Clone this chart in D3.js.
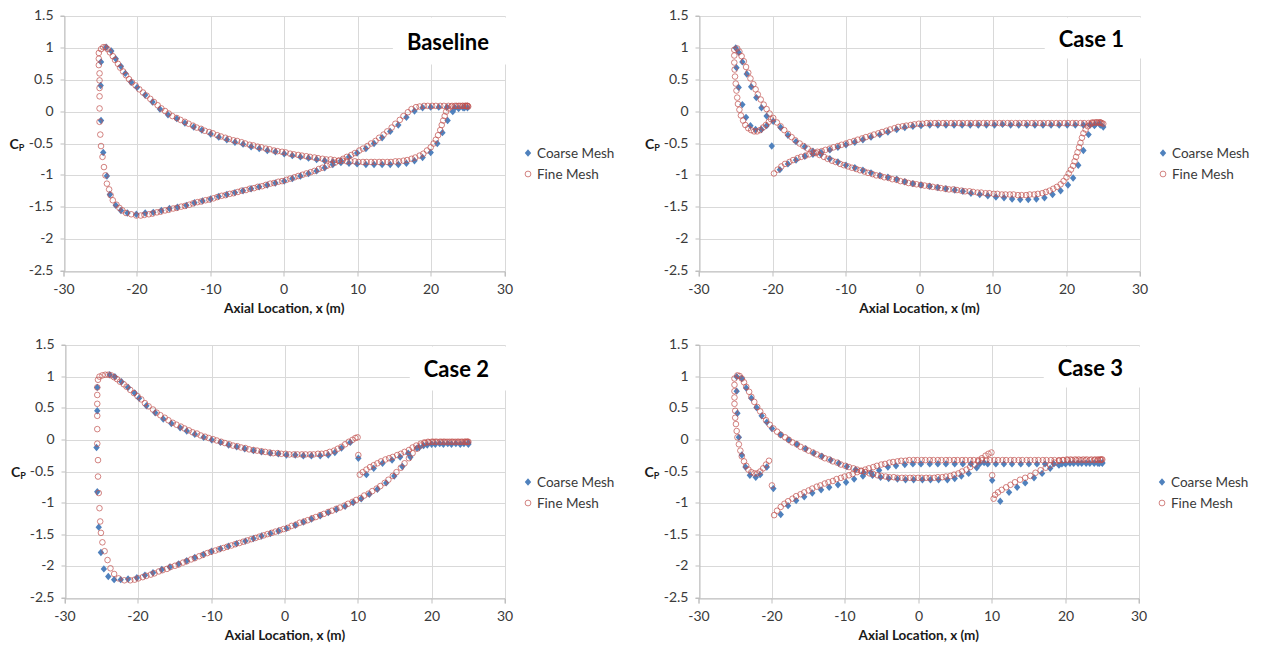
<!DOCTYPE html>
<html><head><meta charset="utf-8">
<script src="https://cdn.jsdelivr.net/npm/d3@7"></script>
<style>body{margin:0;background:#fff;} svg{display:block;font-family:Lato,"Open Sans",sans-serif;}</style>
</head><body><svg id="c" width="1264" height="646"></svg>
<script>
const xTicks = [-30,-20,-10,0,10,20,30];
const yTicks = [1.5,1,0.5,0,-0.5,-1,-1.5,-2,-2.5];
const seriesNames = ["Coarse Mesh","Fine Mesh"];
const panelTitles = ["Baseline","Case 1","Case 2","Case 3"];
const xAxisTitle = "Axial Location, x (m)";

const baselineCoarse = [
[-24.9,0.78],[-24.95,0.41],[-24.9,-0.14],[-24.6,-0.64],[-24.1,-1.01],[-23.7,-1.30],[-22.9,-1.47],[-22.2,-1.55],[-21.3,-1.59],[-20.1,-1.61],[-18.9,-1.59],[-17.8,-1.58],[-16.7,-1.55],[-15.6,-1.52],[-14.5,-1.50],[-13.3,-1.47],[-12.2,-1.43],[-11.1,-1.40],[-10.0,-1.37],[-8.9,-1.33],[-7.8,-1.30],[-6.7,-1.27],[-5.6,-1.24],[-4.5,-1.21],[-3.4,-1.18],[-2.3,-1.15],[-1.2,-1.12],[0,-1.09],[1.1,-1.05],[2.2,-1.01],[3.3,-0.97],[4.4,-0.93],[5.5,-0.88],[6.6,-0.83],[7.7,-0.77],[8.8,-0.71],[9.9,-0.65],[11.1,-0.58],[12.2,-0.50],[13.3,-0.41],[14.4,-0.31],[15.5,-0.21],[16.6,-0.09],[17.7,0.01],[18.8,0.06],[19.9,0.07],[21.0,0.07],[22.1,0.07],[23.2,0.06],[24.3,0.06],[24.9,0.06],
[-24.2,1.01],[-23.5,0.95],[-22.9,0.83],[-22.2,0.71],[-21.6,0.60],[-20.8,0.46],[-20.0,0.38],[-18.9,0.26],[-17.9,0.15],[-16.9,0.04],[-15.8,-0.05],[-14.6,-0.11],[-13.5,-0.18],[-12.3,-0.24],[-11.2,-0.29],[-10.0,-0.35],[-8.9,-0.40],[-7.8,-0.44],[-6.7,-0.48],[-5.6,-0.51],[-4.5,-0.55],[-3.4,-0.58],[-2.3,-0.61],[-1.2,-0.63],[0,-0.66],[1.1,-0.69],[2.2,-0.71],[3.3,-0.73],[4.4,-0.75],[5.5,-0.77],[6.6,-0.79],[7.7,-0.80],[8.8,-0.81],[9.9,-0.82],[11.1,-0.83],[12.2,-0.83],[13.3,-0.83],[14.4,-0.83],[15.5,-0.83],[16.6,-0.81],[17.7,-0.77],[18.8,-0.72],[19.9,-0.64],[20.8,-0.50],[21.5,-0.33],[22.2,-0.14],[22.9,0.0],[23.7,0.05],[24.5,0.06]
];
const baselineFine = [
[-25.2,0.92],[-25.2,0.83],[-25.2,0.73],[-25.1,0.6],[-25.1,0.49],[-25.1,0.37],[-25.1,0.24],[-25.1,0.05],[-25.1,-0.16],[-25.0,-0.36],[-24.9,-0.54],[-24.7,-0.71],[-24.5,-0.87],[-24.3,-1.0],[-24.1,-1.13],[-23.8,-1.22],[-23.6,-1.31],[-23.3,-1.39],[-22.8,-1.46],[-22.4,-1.51],[-22.0,-1.55],[-21.5,-1.59],[-20.8,-1.61],[-20.1,-1.63],[-19.5,-1.63],[-19.0,-1.62],[-18.4,-1.61],[-17.9,-1.60],[-17.3,-1.58],[-16.8,-1.57],[-16.2,-1.55],[-15.7,-1.54],[-15.1,-1.52],[-14.6,-1.51],[-14.0,-1.49],[-13.5,-1.48],[-12.9,-1.46],[-12.4,-1.44],[-11.8,-1.42],[-11.3,-1.41],[-10.7,-1.39],[-10.2,-1.38],[-9.6,-1.36],[-9.1,-1.34],[-8.5,-1.32],[-8.0,-1.31],[-7.4,-1.29],[-6.9,-1.28],[-6.3,-1.26],[-5.8,-1.24],[-5.2,-1.23],[-4.7,-1.21],[-4.1,-1.20],[-3.6,-1.18],[-3.0,-1.17],[-2.5,-1.15],[-1.9,-1.13],[-1.4,-1.12],[-0.8,-1.10],[-0.3,-1.09],[0.3,-1.07],[0.8,-1.05],[1.4,-1.03],[1.9,-1.01],[2.5,-0.99],[3.0,-0.97],[3.6,-0.95],[4.1,-0.93],[4.7,-0.90],[5.2,-0.88],[5.8,-0.85],[6.3,-0.83],[6.9,-0.80],[7.4,-0.77],[8.0,-0.74],[8.5,-0.71],[9.1,-0.68],[9.6,-0.65],[10.2,-0.61],[10.7,-0.58],[11.3,-0.54],[11.8,-0.50],[12.4,-0.46],[12.9,-0.41],[13.5,-0.36],[14.0,-0.31],[14.6,-0.25],[15.1,-0.19],[15.7,-0.13],[16.2,-0.07],[16.8,-0.01],[17.3,0.04],[17.9,0.07],[18.4,0.08],[19.0,0.09],[19.5,0.09],[20.1,0.09],[20.6,0.09],[21.2,0.09],[21.7,0.09],[22.3,0.09],[22.8,0.09],[23.4,0.09],[23.9,0.09],[24.3,0.09],[24.6,0.09],[24.8,0.09],[24.9,0.09],[25.0,0.08],
[-24.9,0.98],[-24.6,1.01],[-24.3,1.01],[-24.0,0.98],[-23.7,0.93],[-23.3,0.87],[-23.0,0.81],[-22.6,0.75],[-22.3,0.69],[-21.9,0.63],[-21.5,0.57],[-21.1,0.51],[-20.7,0.46],[-20.2,0.41],[-19.7,0.35],[-19.2,0.30],[-18.7,0.25],[-18.2,0.20],[-17.7,0.15],[-17.2,0.10],[-16.7,0.05],[-16.2,0.01],[-15.7,-0.03],[-15.2,-0.07],[-14.6,-0.10],[-14.1,-0.13],[-13.5,-0.16],[-13.0,-0.19],[-12.4,-0.22],[-11.9,-0.25],[-11.3,-0.27],[-10.8,-0.30],[-10.2,-0.32],[-9.7,-0.34],[-9.1,-0.37],[-8.6,-0.39],[-8.0,-0.41],[-7.5,-0.43],[-6.9,-0.45],[-6.4,-0.46],[-5.8,-0.48],[-5.3,-0.50],[-4.7,-0.52],[-4.2,-0.53],[-3.6,-0.55],[-3.1,-0.56],[-2.5,-0.58],[-2.0,-0.59],[-1.4,-0.61],[-0.9,-0.62],[-0.3,-0.63],[0.2,-0.64],[0.8,-0.66],[1.3,-0.67],[1.9,-0.68],[2.4,-0.69],[3.0,-0.70],[3.5,-0.71],[4.1,-0.72],[4.6,-0.73],[5.2,-0.74],[5.7,-0.75],[6.3,-0.75],[6.8,-0.76],[7.4,-0.77],[7.9,-0.77],[8.5,-0.78],[9.0,-0.78],[9.6,-0.78],[10.1,-0.79],[10.7,-0.79],[11.2,-0.79],[11.8,-0.79],[12.3,-0.79],[12.9,-0.79],[13.4,-0.79],[14.0,-0.79],[14.5,-0.79],[15.1,-0.78],[15.6,-0.78],[16.2,-0.77],[16.7,-0.76],[17.3,-0.74],[17.8,-0.72],[18.4,-0.69],[18.9,-0.66],[19.4,-0.61],[19.9,-0.56],[20.3,-0.50],[20.6,-0.44],[20.9,-0.37],[21.2,-0.29],[21.4,-0.21],[21.6,-0.14],[21.8,-0.07],[22.0,0.0],[22.3,0.05],[22.7,0.08],[23.2,0.09],[23.7,0.09],[24.2,0.09],[24.6,0.09],[24.9,0.09]
];

const case1Coarse = [
[-25.0,1.0],[-24.9,0.69],[-24.6,0.38],[-24.1,0.11],[-23.6,-0.09],[-23.0,-0.22],[-22.3,-0.28],[-21.5,-0.28],[-20.8,-0.22],[-20.1,-0.54],
[-24.6,0.93],[-24.1,0.78],[-23.5,0.59],[-22.9,0.39],[-22.2,0.22],[-21.5,0.06],[-20.8,-0.07],[-19.9,-0.15],[-18.9,-0.25],[-17.9,-0.37],[-16.8,-0.47],[-15.6,-0.55],[-14.5,-0.62],[-13.4,-0.67],[-12.2,-0.74],[-11.1,-0.79],[-10.0,-0.84],[-8.8,-0.88],[-7.7,-0.92],[-6.6,-0.96],[-5.4,-1.0],[-4.3,-1.03],[-3.1,-1.06],[-2.0,-1.10],[-0.9,-1.13],[0.2,-1.15],[1.4,-1.17],[2.5,-1.19],[3.6,-1.21],[4.8,-1.23],[5.9,-1.25],[7.0,-1.28],[8.2,-1.30],[9.3,-1.32],[10.4,-1.34],[11.5,-1.35],[12.6,-1.37],[13.7,-1.38],[14.8,-1.38],[15.9,-1.37],[17.0,-1.35],[18.1,-1.30],[19.2,-1.24],[20.2,-1.15],[20.9,-1.04],[21.6,-0.84],[22.3,-0.61],[23.0,-0.36],[23.8,-0.22],[24.6,-0.21],[25.0,-0.24],
[-19.0,-0.91],[-17.9,-0.82],[-16.8,-0.76],[-15.6,-0.70],[-14.5,-0.67],[-13.4,-0.64],[-12.2,-0.60],[-11.1,-0.56],[-10.0,-0.52],[-8.8,-0.48],[-7.7,-0.44],[-6.6,-0.40],[-5.4,-0.36],[-4.3,-0.32],[-3.1,-0.28],[-2.0,-0.25],[-0.9,-0.23],[0.2,-0.22],[1.4,-0.21],[2.5,-0.21],[3.6,-0.21],[4.7,-0.21],[5.8,-0.21],[6.9,-0.21],[8.0,-0.21],[9.1,-0.21],[10.2,-0.21],[11.3,-0.20],[12.4,-0.21],[13.5,-0.21],[14.6,-0.21],[15.7,-0.21],[16.8,-0.21],[17.9,-0.21],[19.0,-0.21],[20.1,-0.21],[21.2,-0.21],[22.3,-0.21],[23.2,-0.21],[23.9,-0.20],[24.5,-0.19]
];
const case1Fine = [
[-25.2,0.97],[-25.2,0.88],[-25.2,0.77],[-25.15,0.66],[-25.1,0.55],[-25.0,0.44],[-24.9,0.33],[-24.8,0.22],[-24.7,0.12],[-24.5,0.03],[-24.3,-0.06],[-24.0,-0.14],[-23.7,-0.21],[-23.3,-0.26],[-22.9,-0.29],[-22.5,-0.31],[-22.1,-0.31],[-21.7,-0.29],[-21.3,-0.25],[-20.9,-0.21],[-20.5,-0.16],[-20.2,-0.12],
[-24.8,0.99],[-24.5,0.94],[-24.2,0.87],[-23.9,0.79],[-23.6,0.70],[-23.3,0.61],[-23.0,0.52],[-22.6,0.43],[-22.3,0.35],[-22.0,0.27],[-21.6,0.19],[-21.2,0.11],[-20.8,0.04],[-20.4,-0.03],[-19.9,-0.10],[-19.4,-0.17],[-18.9,-0.23],[-18.4,-0.29],[-17.9,-0.35],[-17.4,-0.40],[-16.9,-0.45],[-16.3,-0.50],[-15.8,-0.54],[-15.2,-0.58],[-14.7,-0.62],[-14.1,-0.65],[-13.6,-0.68],[-13.0,-0.71],[-12.5,-0.74],[-11.9,-0.77],[-11.4,-0.79],[-10.8,-0.82],[-10.3,-0.84],[-9.7,-0.86],[-9.2,-0.88],[-8.6,-0.90],[-8.1,-0.92],[-7.5,-0.94],[-7.0,-0.96],[-6.4,-0.98],[-5.9,-1.0],[-5.3,-1.01],[-4.8,-1.03],[-4.2,-1.04],[-3.7,-1.06],[-3.1,-1.07],[-2.6,-1.09],[-2.0,-1.10],[-1.5,-1.12],[-0.9,-1.13],[-0.4,-1.14],[0.2,-1.15],[0.7,-1.16],[1.3,-1.17],[1.8,-1.18],[2.4,-1.19],[2.9,-1.20],[3.5,-1.21],[4.0,-1.22],[4.6,-1.22],[5.1,-1.23],[5.7,-1.24],[6.2,-1.25],[6.8,-1.25],[7.3,-1.26],[7.9,-1.27],[8.4,-1.27],[9.0,-1.28],[9.5,-1.28],[10.1,-1.29],[10.6,-1.29],[11.2,-1.30],[11.7,-1.30],[12.3,-1.30],[12.8,-1.30],[13.4,-1.31],[13.9,-1.31],[14.5,-1.31],[15.0,-1.30],[15.6,-1.30],[16.1,-1.29],[16.7,-1.28],[17.2,-1.26],[17.7,-1.24],[18.2,-1.21],[18.7,-1.18],[19.2,-1.14],[19.6,-1.09],[20.0,-1.03],[20.3,-0.97],[20.6,-0.91],[20.9,-0.85],[21.1,-0.78],[21.3,-0.71],[21.5,-0.64],[21.7,-0.56],[21.9,-0.49],[22.1,-0.41],[22.3,-0.34],[22.6,-0.28],[22.9,-0.23],[23.2,-0.20],[23.5,-0.18],[23.8,-0.17],[24.1,-0.17],[24.4,-0.17],[24.6,-0.17],[24.8,-0.18],[25.0,-0.19],
[-19.8,-0.97],[-19.3,-0.91],[-18.8,-0.86],[-18.3,-0.82],[-17.7,-0.79],[-17.2,-0.76],[-16.6,-0.73],[-16.1,-0.71],[-15.5,-0.69],[-15.0,-0.67],[-14.4,-0.65],[-13.9,-0.63],[-13.3,-0.62],[-12.8,-0.60],[-12.2,-0.58],[-11.7,-0.56],[-11.1,-0.54],[-10.6,-0.52],[-10.0,-0.50],[-9.5,-0.48],[-8.9,-0.46],[-8.4,-0.44],[-7.8,-0.42],[-7.3,-0.40],[-6.7,-0.38],[-6.2,-0.36],[-5.6,-0.34],[-5.1,-0.32],[-4.5,-0.30],[-4.0,-0.28],[-3.4,-0.26],[-2.9,-0.24],[-2.3,-0.23],[-1.8,-0.22],[-1.2,-0.21],[-0.7,-0.20],[-0.1,-0.19],[0.4,-0.19],[1.0,-0.18],[1.5,-0.18],[2.1,-0.18],[2.6,-0.18],[3.2,-0.18],[3.7,-0.18],[4.3,-0.18],[4.8,-0.18],[5.4,-0.18],[5.9,-0.18],[6.5,-0.18],[7.0,-0.18],[7.6,-0.18],[8.1,-0.18],[8.7,-0.18],[9.2,-0.18],[9.8,-0.18],[10.3,-0.18],[10.9,-0.18],[11.4,-0.18],[12.0,-0.18],[12.5,-0.18],[13.1,-0.18],[13.6,-0.18],[14.2,-0.18],[14.7,-0.18],[15.3,-0.18],[15.8,-0.18],[16.4,-0.18],[16.9,-0.18],[17.5,-0.18],[18.0,-0.18],[18.6,-0.18],[19.1,-0.18],[19.7,-0.18],[20.2,-0.18],[20.8,-0.18],[21.3,-0.18],[21.9,-0.18],[22.4,-0.18],[23.0,-0.18],[23.5,-0.17],[24.1,-0.17],[24.6,-0.17]
];

const case2Coarse = [
[-25.6,0.83],[-25.6,0.46],[-25.7,-0.12],[-25.6,-0.82],[-25.4,-1.38],[-25.1,-1.78],[-24.7,-2.04],[-24.1,-2.16],[-23.3,-2.21],[-22.4,-2.21],[-21.4,-2.20],[-20.2,-2.18],[-19.1,-2.14],[-18.0,-2.10],[-16.8,-2.05],[-15.7,-2.01],[-14.5,-1.96],[-13.4,-1.91],[-12.3,-1.86],[-11.1,-1.81],[-10.0,-1.76],[-8.8,-1.72],[-7.7,-1.68],[-6.6,-1.64],[-5.4,-1.60],[-4.3,-1.56],[-3.2,-1.52],[-2.0,-1.48],[-0.9,-1.44],[0.2,-1.40],[1.4,-1.35],[2.5,-1.30],[3.6,-1.25],[4.8,-1.20],[5.9,-1.15],[7.0,-1.10],[8.2,-1.05],[9.3,-0.99],[10.4,-0.93],[11.5,-0.86],[12.6,-0.78],[13.8,-0.68],[14.9,-0.57],[16.0,-0.42],[17.1,-0.27],[18.3,-0.12],[19.4,-0.08],[20.5,-0.07],[21.6,-0.07],[22.7,-0.07],[23.9,-0.07],[25.0,-0.07],
[-23.9,1.03],[-23.2,1.0],[-22.3,0.92],[-21.4,0.83],[-20.5,0.74],[-19.9,0.66],[-18.9,0.54],[-17.7,0.43],[-16.6,0.33],[-15.5,0.26],[-14.3,0.19],[-13.4,0.14],[-12.3,0.09],[-11.1,0.04],[-10.0,0.0],[-8.8,-0.04],[-7.7,-0.08],[-6.6,-0.11],[-5.5,-0.14],[-4.3,-0.17],[-3.2,-0.19],[-2.0,-0.21],[-0.9,-0.22],[0.2,-0.24],[1.4,-0.24],[2.5,-0.25],[3.6,-0.25],[4.8,-0.25],[5.9,-0.24],[6.8,-0.20],[7.7,-0.13],[8.9,-0.04],
[10.0,-0.29],
[11.1,-0.55],[12.1,-0.45],[13.3,-0.37],[14.6,-0.32],[15.7,-0.27],[16.8,-0.21],[18.0,-0.13],[18.9,-0.09],[20.0,-0.07],[21.1,-0.06],[22.2,-0.06],[23.3,-0.06],[24.4,-0.06],[25.0,-0.05]
];
const case2Fine = [
[-25.5,0.95],[-25.6,0.83],[-25.6,0.71],[-25.6,0.57],[-25.6,0.38],[-25.6,0.17],[-25.6,-0.06],[-25.5,-0.32],[-25.5,-0.58],[-25.4,-0.84],[-25.3,-1.08],[-25.2,-1.29],[-25.1,-1.47],[-24.9,-1.62],[-24.6,-1.76],[-24.2,-1.90],[-23.8,-2.03],[-23.3,-2.12],[-22.7,-2.19],[-21.9,-2.22],[-21.1,-2.22],[-20.5,-2.21],[-20.0,-2.19],[-19.4,-2.17],[-18.9,-2.15],[-18.3,-2.13],[-17.8,-2.11],[-17.2,-2.08],[-16.7,-2.06],[-16.1,-2.04],[-15.6,-2.01],[-15.0,-1.99],[-14.5,-1.97],[-13.9,-1.94],[-13.4,-1.92],[-12.8,-1.89],[-12.3,-1.87],[-11.7,-1.84],[-11.2,-1.82],[-10.6,-1.79],[-10.1,-1.77],[-9.5,-1.75],[-9.0,-1.73],[-8.4,-1.71],[-7.9,-1.69],[-7.3,-1.67],[-6.8,-1.65],[-6.2,-1.63],[-5.7,-1.61],[-5.1,-1.59],[-4.6,-1.57],[-4.0,-1.55],[-3.5,-1.53],[-2.9,-1.51],[-2.4,-1.49],[-1.8,-1.47],[-1.3,-1.45],[-0.7,-1.43],[-0.2,-1.41],[0.4,-1.39],[0.9,-1.36],[1.5,-1.34],[2.0,-1.31],[2.6,-1.29],[3.1,-1.27],[3.7,-1.24],[4.2,-1.22],[4.8,-1.19],[5.3,-1.17],[5.9,-1.14],[6.4,-1.12],[7.0,-1.09],[7.5,-1.07],[8.1,-1.04],[8.6,-1.01],[9.2,-0.98],[9.7,-0.95],[10.3,-0.92],[10.8,-0.88],[11.4,-0.85],[11.9,-0.81],[12.5,-0.77],[13.0,-0.73],[13.6,-0.68],[14.1,-0.63],[14.7,-0.57],[15.2,-0.51],[15.8,-0.44],[16.3,-0.37],[16.9,-0.29],[17.4,-0.21],[18.0,-0.14],[18.5,-0.09],[19.1,-0.05],[19.6,-0.04],[20.2,-0.03],[20.7,-0.03],[21.3,-0.03],[21.8,-0.03],[22.4,-0.03],[22.9,-0.03],[23.5,-0.03],[24.0,-0.03],[24.5,-0.03],[24.8,-0.03],[25.0,-0.03],
[-25.3,1.0],[-24.9,1.02],[-24.5,1.03],[-24.1,1.03],[-23.7,1.02],[-23.3,0.99],[-22.9,0.96],[-22.5,0.92],[-22.0,0.88],[-21.6,0.84],[-21.1,0.79],[-20.6,0.74],[-20.1,0.69],[-19.6,0.64],[-19.1,0.58],[-18.6,0.53],[-18.0,0.48],[-17.5,0.43],[-17.0,0.39],[-16.4,0.35],[-15.9,0.31],[-15.3,0.27],[-14.8,0.24],[-14.2,0.21],[-13.7,0.18],[-13.1,0.15],[-12.6,0.12],[-12.0,0.10],[-11.5,0.07],[-10.9,0.05],[-10.4,0.03],[-9.8,0.01],[-9.3,-0.01],[-8.7,-0.03],[-8.2,-0.05],[-7.6,-0.07],[-7.1,-0.09],[-6.5,-0.10],[-6.0,-0.12],[-5.4,-0.13],[-4.9,-0.15],[-4.3,-0.16],[-3.8,-0.17],[-3.2,-0.18],[-2.7,-0.19],[-2.1,-0.20],[-1.6,-0.21],[-1.0,-0.21],[-0.5,-0.22],[0.1,-0.22],[0.6,-0.23],[1.2,-0.23],[1.7,-0.23],[2.3,-0.23],[2.8,-0.23],[3.4,-0.23],[3.9,-0.23],[4.5,-0.22],[5.0,-0.22],[5.6,-0.21],[6.1,-0.19],[6.7,-0.17],[7.2,-0.14],[7.7,-0.11],[8.2,-0.07],[8.7,-0.03],[9.2,0.0],[9.6,0.03],[9.9,0.04],
[10.0,-0.24],
[10.2,-0.55],[10.6,-0.51],[11.1,-0.47],[11.6,-0.43],[12.1,-0.40],[12.6,-0.37],[13.1,-0.34],[13.7,-0.31],[14.2,-0.29],[14.7,-0.27],[15.3,-0.24],[15.8,-0.22],[16.3,-0.19],[16.9,-0.16],[17.4,-0.12],[17.9,-0.09],[18.5,-0.06],[19.0,-0.04],[19.5,-0.03],[20.0,-0.03],[20.5,-0.03],[21.1,-0.03],[21.6,-0.03],[22.1,-0.03],[22.7,-0.03],[23.2,-0.03],[23.7,-0.03],[24.2,-0.03],[24.6,-0.03],[24.9,-0.03]
];

const case3Coarse = [
[-24.8,1.0],[-24.8,0.77],[-24.7,0.42],[-24.5,0.04],[-24.1,-0.24],[-23.6,-0.43],[-23.0,-0.56],[-22.2,-0.59],[-21.6,-0.55],[-20.7,-0.43],
[-19.8,-0.77],
[-24.1,0.97],[-23.5,0.82],[-22.8,0.66],[-22.1,0.51],[-21.4,0.38],[-20.7,0.28],[-20.0,0.18],[-18.8,0.08],[-17.7,0.0],[-16.6,-0.07],[-15.4,-0.14],[-14.3,-0.21],[-13.2,-0.26],[-12.0,-0.32],[-10.9,-0.37],[-9.8,-0.42],[-8.6,-0.47],[-7.5,-0.52],[-6.3,-0.56],[-5.2,-0.59],[-4.1,-0.61],[-2.9,-0.62],[-1.8,-0.63],[-0.7,-0.63],[0.5,-0.63],[1.6,-0.63],[2.7,-0.63],[3.9,-0.63],[4.9,-0.61],[5.8,-0.57],[6.8,-0.53],[7.9,-0.44],[8.9,-0.36],
[-18.8,-1.18],[-17.8,-1.04],[-16.7,-0.96],[-15.6,-0.90],[-14.5,-0.84],[-13.3,-0.79],[-12.2,-0.75],[-11.0,-0.71],[-9.9,-0.67],[-8.8,-0.62],[-7.6,-0.57],[-6.5,-0.52],[-5.4,-0.48],[-4.2,-0.43],[-3.1,-0.41],[-1.9,-0.39],[-0.8,-0.38],[0.3,-0.38],[1.5,-0.38],[2.6,-0.38],[3.7,-0.38],[4.9,-0.38],[6.0,-0.38],[7.1,-0.38],[8.3,-0.38],[9.4,-0.38],[10.5,-0.38],[11.6,-0.38],[12.7,-0.38],[13.9,-0.38],[15.0,-0.38],[16.1,-0.38],[17.2,-0.38],[18.4,-0.38],[19.5,-0.38],[20.6,-0.37],[21.7,-0.37],[22.8,-0.37],[23.9,-0.37],[24.6,-0.37],[25.0,-0.37],
[10.0,-0.64],
[11.1,-0.97],[12.3,-0.83],[13.4,-0.75],[14.5,-0.68],[15.7,-0.60],[16.8,-0.53],[17.9,-0.45],[19.1,-0.40],[20.0,-0.38],[21.1,-0.37],[22.2,-0.37],[23.3,-0.37],[24.4,-0.37],[25.0,-0.36]
];
const case3Fine = [
[-25.1,0.97],[-25.1,0.87],[-25.1,0.77],[-25.1,0.67],[-25.1,0.57],[-25.0,0.46],[-25.0,0.35],[-24.9,0.25],[-24.8,0.14],[-24.7,0.04],[-24.5,-0.07],[-24.3,-0.17],[-24.1,-0.26],[-23.8,-0.34],[-23.5,-0.41],[-23.2,-0.47],[-22.8,-0.51],[-22.4,-0.53],[-22.0,-0.53],[-21.6,-0.50],[-21.2,-0.45],[-20.8,-0.39],[-20.4,-0.33],
[-20.0,-0.72],
[-24.7,1.02],[-24.4,1.01],[-24.1,0.97],[-23.8,0.91],[-23.5,0.84],[-23.1,0.76],[-22.8,0.68],[-22.4,0.60],[-22.0,0.52],[-21.6,0.45],[-21.2,0.38],[-20.8,0.31],[-20.3,0.24],[-19.8,0.18],[-19.3,0.13],[-18.8,0.08],[-18.2,0.04],[-17.7,0.0],[-17.2,-0.04],[-16.6,-0.07],[-16.1,-0.11],[-15.5,-0.14],[-15.0,-0.17],[-14.4,-0.20],[-13.9,-0.23],[-13.3,-0.26],[-12.8,-0.29],[-12.2,-0.31],[-11.7,-0.34],[-11.1,-0.36],[-10.6,-0.39],[-10.0,-0.41],[-9.5,-0.43],[-8.9,-0.45],[-8.4,-0.47],[-7.8,-0.49],[-7.3,-0.51],[-6.7,-0.53],[-6.2,-0.54],[-5.6,-0.56],[-5.1,-0.57],[-4.5,-0.58],[-4.0,-0.59],[-3.4,-0.59],[-2.9,-0.60],[-2.3,-0.60],[-1.8,-0.60],[-1.2,-0.60],[-0.7,-0.60],[-0.1,-0.60],[0.4,-0.60],[1.0,-0.60],[1.5,-0.60],[2.1,-0.60],[2.6,-0.59],[3.2,-0.59],[3.7,-0.58],[4.3,-0.57],[4.8,-0.55],[5.4,-0.53],[5.9,-0.50],[6.5,-0.47],[7.0,-0.43],[7.6,-0.39],[8.1,-0.34],[8.6,-0.29],[9.1,-0.25],[9.5,-0.22],[9.9,-0.20],
[10.0,-0.56],
[-19.7,-1.19],[-19.3,-1.12],[-18.8,-1.06],[-18.3,-1.01],[-17.8,-0.97],[-17.2,-0.93],[-16.7,-0.89],[-16.1,-0.86],[-15.6,-0.83],[-15.0,-0.80],[-14.5,-0.77],[-13.9,-0.74],[-13.4,-0.72],[-12.8,-0.69],[-12.3,-0.67],[-11.7,-0.65],[-11.2,-0.62],[-10.6,-0.60],[-10.1,-0.58],[-9.5,-0.56],[-9.0,-0.54],[-8.4,-0.51],[-7.9,-0.49],[-7.3,-0.47],[-6.8,-0.45],[-6.2,-0.43],[-5.7,-0.41],[-5.1,-0.39],[-4.6,-0.38],[-4.0,-0.36],[-3.5,-0.35],[-2.9,-0.34],[-2.4,-0.33],[-1.8,-0.33],[-1.3,-0.32],[-0.7,-0.32],[-0.2,-0.32],[0.4,-0.32],[0.9,-0.32],[1.5,-0.32],[2.0,-0.32],[2.6,-0.32],[3.1,-0.32],[3.7,-0.32],[4.2,-0.32],[4.8,-0.32],[5.3,-0.32],[5.9,-0.32],[6.4,-0.32],[7.0,-0.32],[7.5,-0.32],[8.1,-0.32],[8.6,-0.32],[9.2,-0.32],[9.7,-0.32],[10.3,-0.32],[10.8,-0.32],[11.4,-0.32],[11.9,-0.32],[12.5,-0.32],[13.0,-0.32],[13.6,-0.32],[14.1,-0.32],[14.7,-0.32],[15.2,-0.32],[15.8,-0.32],[16.3,-0.32],[16.9,-0.32],[17.4,-0.32],[18.0,-0.32],[18.5,-0.32],[19.1,-0.32],[19.6,-0.32],[20.2,-0.31],[20.7,-0.31],[21.3,-0.31],[21.8,-0.31],[22.4,-0.31],[22.9,-0.31],[23.5,-0.31],[24.0,-0.31],[24.4,-0.31],[24.7,-0.31],[24.9,-0.31],[25.0,-0.31],
[10.2,-0.93],[10.4,-0.87],[10.8,-0.83],[11.3,-0.79],[11.9,-0.75],[12.5,-0.71],[13.1,-0.67],[13.8,-0.63],[14.5,-0.60],[15.2,-0.57],[15.9,-0.52],[16.6,-0.48],[17.3,-0.44],[17.9,-0.40],[18.5,-0.36],[19.1,-0.33],[19.7,-0.32],[20.3,-0.32],[20.9,-0.32],[21.5,-0.32],[22.1,-0.32],[22.7,-0.32],[23.3,-0.32],[23.9,-0.32],[24.4,-0.32],[24.8,-0.32]
];

const coarseColor = "#4f81bd";
const fineColor = "#c0504d";

const panels = [
  {title: panelTitles[0], coarse: baselineCoarse, fine: baselineFine, left: 63.5, right: 505, top: 16, bottom: 271, ty: 25},
  {title: panelTitles[1], coarse: case1Coarse, fine: case1Fine, left: 699, right: 1140, top: 16, bottom: 271, ty: 22},
  {title: panelTitles[2], coarse: case2Coarse, fine: case2Fine, left: 65, right: 505, top: 345, bottom: 598, ty: 23.5},
  {title: panelTitles[3], coarse: case3Coarse, fine: case3Fine, left: 698.5, right: 1139, top: 345, bottom: 598, ty: 22}
];

const svg = d3.select("#c");
const diamond = "M0,-3.7L3.2,0L0,3.7L-3.2,0Z";
const crisp = v => Math.round(v) + 0.5;

panels.forEach(p => {
  const x = d3.scaleLinear().domain([-30, 30]).range([p.left, p.right]);
  const y = d3.scaleLinear().domain([-2.5, 1.5]).range([p.bottom, p.top]);
  const g = svg.append("g");

  // gridlines
  g.append("g").selectAll("line").data(xTicks).join("line")
    .attr("x1", d => crisp(x(d))).attr("x2", d => crisp(x(d)))
    .attr("y1", crisp(y(1.5))).attr("y2", crisp(y(-2.5)))
    .attr("stroke", "#d9d9d9").attr("stroke-width", 1);
  g.append("g").selectAll("line").data(yTicks).join("line")
    .attr("y1", d => crisp(y(d))).attr("y2", d => crisp(y(d)))
    .attr("x1", crisp(x(-30))).attr("x2", crisp(x(30)))
    .attr("stroke", "#d9d9d9").attr("stroke-width", 1);

  // axes
  const yAxis = d3.axisLeft(y).tickValues(yTicks).tickSize(4).tickPadding(7).tickFormat(d => String(d));
  const ya = g.append("g").attr("transform", `translate(${crisp(x(-30))},0)`).call(yAxis);
  const xAxis = d3.axisBottom(x).tickValues(xTicks).tickSize(5).tickPadding(8).tickFormat(d => String(d));
  const xa = g.append("g").attr("transform", `translate(0,${crisp(y(-2.5))})`).call(xAxis);
  [ya, xa].forEach(a => {
    a.select(".domain").attr("stroke", "#bfbfbf");
    a.selectAll(".tick line").attr("stroke", "#bfbfbf");
    a.selectAll(".tick text").attr("fill", "#3a3a3a").style("font-size", "14px").style("font-family", "Lato, 'Open Sans', sans-serif");
  });
  ya.selectAll(".tick").attr("transform", d => `translate(0,${Math.round(y(d))})`);
  xa.selectAll(".tick").attr("transform", d => `translate(${Math.round(x(d))},0)`);

  // title box
  const rect = g.append("rect").attr("fill", "#fff");
  const tt = g.append("text").attr("font-weight", "bold").attr("font-size", "22px").attr("fill", "#000")
    .attr("text-anchor", "middle").attr("dominant-baseline", "central").text(p.title);
  const tw = tt.node().getComputedTextLength();
  const bw = tw + 30;
  rect.attr("x", p.right - bw).attr("y", p.top + 1.5).attr("width", bw + 1.5).attr("height", p.ty * 2 - 3);
  tt.attr("x", p.right - 16 - tw / 2).attr("y", p.top + p.ty);

  // series
  g.append("g").selectAll("path").data(p.coarse).join("path")
    .attr("d", diamond).attr("fill", coarseColor)
    .attr("transform", d => `translate(${x(d[0])},${y(d[1])})`);
  g.append("g").selectAll("circle").data(p.fine).join("circle")
    .attr("cx", d => x(d[0])).attr("cy", d => y(d[1])).attr("r", 2.8)
    .attr("fill", "none").attr("stroke", fineColor).attr("stroke-width", 1).attr("stroke-opacity", 0.7);

  // axis titles
  g.append("text").attr("x", (x(-30) + x(30)) / 2).attr("y", p.bottom + 42)
    .attr("text-anchor", "middle").attr("font-weight", "bold").attr("font-size", "13.5px").attr("fill", "#1a1a1a")
    .text(xAxisTitle);
  const cp = g.append("text").attr("x", p.left - 54).attr("y", y(-0.5) + 5)
    .attr("font-weight", "bold").attr("font-size", "14px").attr("fill", "#1a1a1a");
  cp.append("tspan").text("C");
  cp.append("tspan").attr("font-size", "9px").attr("dy", 2).text("P");

  // legend
  const lx = p.right + 23;
  const ly = [p.top + 137, p.top + 158];
  g.append("path").attr("d", diamond).attr("fill", coarseColor).attr("transform", `translate(${lx},${ly[0]})`);
  g.append("circle").attr("cx", lx).attr("cy", ly[1]).attr("r", 2.9).attr("fill", "none")
    .attr("stroke", fineColor).attr("stroke-width", 1).attr("stroke-opacity", 0.7);
  seriesNames.forEach((n, i) => {
    g.append("text").attr("x", lx + 9).attr("y", ly[i]).attr("dominant-baseline", "central")
      .attr("font-size", "13.5px").attr("fill", "#3a3a3a").text(n);
  });
});
</script></body></html>
